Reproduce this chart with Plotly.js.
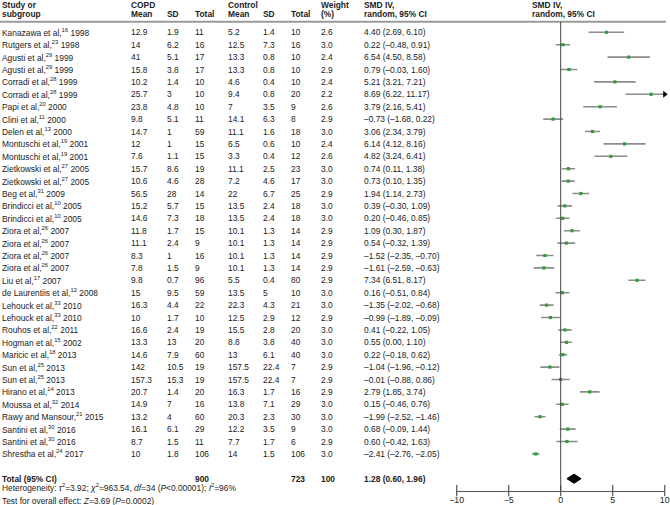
<!DOCTYPE html>
<html>
<head>
<meta charset="utf-8">
<script src="https://cdn.plot.ly/plotly-3.0.1.min.js"></script>
<style>html,body{margin:0;padding:0;background:#fff;}#chart{width:670px;height:505px;}</style>
</head>
<body>
<div id="chart"></div>
<script>
// ---- data ----
const studyNames = ["Kanazawa et al,","Rutgers et al,","Agusti et al,","Agusti et al,","Corradi et al,","Corradi et al,","Papi et al,","Clini et al,","Delen et al,","Montuschi et al,","Montuschi et al,","Zietkowski et al,","Zietkowski et al,","Beg et al,","Brindicci et al,","Brindicci et al,","Ziora et al,","Ziora et al,","Ziora et al,","Ziora et al,","Liu et al,","de Laurentiis et al,","Lehouck et al,","Lehouck et al,","Rouhos et al,","Hogman et al,","Maricic et al,","Sun et al,","Sun et al,","Hirano et al,","Moussa et al,","Rawy and Mansour,","Santini et al,","Santini et al,","Shrestha et al,"];
const refs = [16,23,29,29,28,28,20,11,13,19,19,27,27,31,10,10,26,26,26,26,17,12,33,33,22,15,18,25,25,14,32,21,30,30,24];
const years = [1998,1998,1999,1999,1999,1999,2000,2000,2000,2001,2001,2005,2005,2009,2005,2005,2007,2007,2007,2007,2007,2008,2010,2010,2011,2002,2013,2013,2013,2013,2014,2015,2016,2016,2017];
const copdMean = ["12.9","14","41","15.8","10.2","25.7","23.8","9.8","14.7","12","7.6","15.7","10.6","56.5","15.2","14.6","11.8","11.1","8.3","7.8","9.8","15","16.3","10","16.6","13.3","14.6","142","157.3","20.7","14.9","13.2","16.1","8.7","10"];
const copdSD = ["1.9","6.2","5.1","3.8","1.4","3","4.8","5.1","1","1","1.1","8.6","4.6","28","5.7","7.3","1.7","2.4","1","1.5","0.7","9.5","4.4","1.7","2.4","13","7.9","10.5","15.3","1.4","7","4","6.1","1.5","1.8"];
const copdN = [11,16,17,17,10,10,10,11,59,15,15,19,28,14,15,18,15,9,16,9,96,59,22,10,19,20,60,19,19,20,16,60,29,11,106];
const ctrlMean = ["5.2","12.5","13.3","13.3","4.6","9.4","7","14.1","11.1","6.5","3.3","11.1","7.2","22","13.5","13.5","10.1","10.1","10.1","10.1","5.5","13.5","22.3","12.5","15.5","8.8","13","157.5","157.5","16.3","13.8","20.3","12.2","7.7","14"];
const ctrlSD = ["1.4","7.3","0.8","0.8","0.4","0.8","3.5","6.3","1.6","0.6","0.4","2.5","4.6","6.7","2.4","2.4","1.3","1.3","1.3","1.3","0.4","5","4.3","2.9","2.8","3.8","6.1","22.4","22.4","1.7","7.1","2.3","3.5","1.7","1.5"];
const ctrlN = [10,16,10,10,10,20,9,8,18,10,12,23,17,25,18,18,14,14,14,14,80,10,21,12,20,40,40,7,7,16,29,30,9,6,106];
const weights = ["2.6","3.0","2.4","2.9","2.4","2.2","2.6","2.9","3.0","2.4","2.6","3.0","3.0","2.9","3.0","3.0","2.9","2.9","2.9","2.9","2.9","3.0","3.0","2.9","3.0","3.0","3.0","2.9","2.9","2.9","3.0","3.0","3.0","2.9","3.0"];
const smd = [4.40,0.22,6.54,0.79,5.21,8.69,3.79,-0.73,3.06,6.14,4.82,0.74,0.73,1.94,0.39,0.20,1.09,0.54,-1.52,-1.61,7.34,0.16,-1.35,-0.99,0.41,0.55,0.22,-1.04,-0.01,2.79,0.15,-1.99,0.68,0.60,-2.41];
const ciLo = [2.69,-0.48,4.50,-0.03,3.21,6.22,2.16,-1.68,2.34,4.12,3.24,0.11,0.10,1.14,-0.30,-0.46,0.30,-0.32,-2.35,-2.59,6.51,-0.51,-2.02,-1.89,-0.22,0.00,-0.18,-1.96,-0.88,1.85,-0.46,-2.52,-0.09,-0.42,-2.76];
const ciHi = [6.10,0.91,8.58,1.60,7.21,11.17,5.41,0.22,3.79,8.16,6.41,1.38,1.35,2.73,1.09,0.85,1.87,1.39,-0.70,-0.63,8.17,0.84,-0.68,-0.09,1.05,1.10,0.62,-0.12,0.86,3.74,0.76,-1.46,1.44,1.63,-2.05];
const totalCopdN = 900, totalCtrlN = 723, totalWeight = "100";
const totalSMD = 1.28, totalLo = 0.60, totalHi = 1.96;
const axisTicks = [-10,-5,0,5,10];
const axisMin = -10, axisMax = 10;

// ---- layout helpers ----
const W = 670, H = 505;
const rowTop = 32.3, rowStep = 12.4;
const pxToRow = p => (p - rowTop) / rowStep;
const fmt = v => (v < 0 ? "\u2013" : "") + Math.abs(v).toFixed(2);
const fontFam = "Liberation Sans, Arial, sans-serif";
const fs = 8.4;
const txtColor = "#222";
const colX = {study:1, cm:130, csd:166, cn:194, km:227, ksd:262, kn:290, w:320, smd:363};

const annotations = [];
function addText(txt, xpx, row, opts) {
  annotations.push(Object.assign({
    text: txt, xref: "paper", yref: "y", x: xpx / W, y: row,
    xanchor: "left", yanchor: "middle", showarrow: false, borderpad: 0,
    font: {family: fontFam, size: fs, color: txtColor}
  }, opts || {}));
}
// headers
const h1 = pxToRow(4.5), h2 = pxToRow(14);
addText("<b>Study or</b>", colX.study, h1);
addText("<b>subgroup</b>", colX.study, h2);
addText("<b>COPD</b>", colX.cm, h1);
addText("<b>Mean</b>", colX.cm, h2);
addText("<b>SD</b>", colX.csd, h2);
addText("<b>Total</b>", colX.cn, h2);
addText("<b>Control</b>", colX.km, h1);
addText("<b>Mean</b>", colX.km, h2);
addText("<b>SD</b>", colX.ksd, h2);
addText("<b>Total</b>", colX.kn, h2);
addText("<b>Weight</b>", colX.w, h1);
addText("<b>(%)</b>", colX.w, h2);
addText("<b>SMD IV,</b>", colX.smd, h1);
addText("<b>random, 95% CI</b>", colX.smd, h2);
addText("<b>SMD IV,</b>", 530.5, h1);
addText("<b>random, 95% CI</b>", 530.5, h2);

// rows
studyNames.forEach((n, i) => {
  addText(n + "<sup>" + refs[i] + "</sup> " + years[i], colX.study, i);
  addText(copdMean[i], colX.cm, i);
  addText(copdSD[i], colX.csd, i);
  addText(String(copdN[i]), colX.cn, i);
  addText(ctrlMean[i], colX.km, i);
  addText(ctrlSD[i], colX.ksd, i);
  addText(String(ctrlN[i]), colX.kn, i);
  addText(weights[i], colX.w, i);
  addText(fmt(smd[i]) + " (" + fmt(ciLo[i]) + ", " + fmt(ciHi[i]) + ")", colX.smd, i);
});
const totalRow = studyNames.length + 1;
addText("<b>Total (95% CI)</b>", colX.study, totalRow);
addText("<b>" + totalCopdN + "</b>", colX.cn, totalRow);
addText("<b>" + totalCtrlN + "</b>", colX.kn, totalRow);
addText("<b>" + totalWeight + "</b>", colX.w, totalRow);
addText("<b>" + fmt(totalSMD) + " (" + fmt(totalLo) + ", " + fmt(totalHi) + ")</b>", colX.smd, totalRow);
addText("Heterogeneity: <i>\u03c4</i><sup>2</sup>=3.92; <i>\u03c7</i><sup>2</sup>=963.54, <i>df</i>=34 (<i>P</i>&lt;0.00001); <i>I</i><sup>2</sup>=96%", colX.study, pxToRow(487.5));
addText("Test for overall effect: <i>Z</i>=3.69 (<i>P</i>=0.0002)", colX.study, pxToRow(500.5));

// ---- traces ----
const ciX = [], ciY = [];
const arrowX = [], arrowY = [];
smd.forEach((v, i) => {
  const lo = Math.max(ciLo[i], axisMin), hi = Math.min(ciHi[i], axisMax);
  ciX.push(lo, hi, null); ciY.push(i, i, null);
  if (ciHi[i] > axisMax) { arrowX.push(axisMax); arrowY.push(i); }
  if (ciLo[i] < axisMin) { arrowX.push(axisMin); arrowY.push(i); }
});
const axisRow = pxToRow(490.7);
const dh = 0.37;
const traces = [
  {x: ciX, y: ciY, mode: "lines", line: {color: "#8c8c8c", width: 1.6}, hoverinfo: "skip", cliponaxis: false},
  {x: smd, y: smd.map((_, i) => i), mode: "markers", marker: {symbol: "square", size: 3.2, color: "#2e9e3a"}, cliponaxis: false},
  {x: arrowX, y: arrowY, mode: "markers", marker: {symbol: "triangle-right", size: 6, color: "#000"}, cliponaxis: false},
  {x: [totalLo, totalSMD, totalHi, totalSMD, totalLo], y: [totalRow, totalRow - dh, totalRow, totalRow + dh, totalRow],
   mode: "lines", fill: "toself", fillcolor: "#000", line: {color: "#000", width: 1}, cliponaxis: false},
  {x: axisTicks, y: axisTicks.map(() => axisRow), mode: "markers",
   marker: {symbol: "line-ns-open", size: 8, color: "#555", line: {color: "#555", width: 1.2}}, cliponaxis: false}
];

const layout = {
  width: W, height: H,
  margin: {l: 0, r: 0, t: 0, b: 0},
  paper_bgcolor: "#fff", plot_bgcolor: "rgba(0,0,0,0)",
  showlegend: false,
  font: {family: fontFam, size: fs, color: txtColor},
  xaxis: {
    domain: [456.7 / W, 664.7 / W], range: [axisMin, axisMax],
    anchor: "free", position: 1 - 490.7 / H,
    color: "#222",
    showline: true, linecolor: "#555", linewidth: 1.2,
    showgrid: false, zeroline: false,
    tickmode: "array", tickvals: axisTicks, ticktext: axisTicks.map(v => v < 0 ? "\u2212" + Math.abs(v) : String(v)),
    ticks: "outside", ticklen: 1, tickcolor: "rgba(0,0,0,0)",
    tickfont: {family: fontFam, size: 8.8, color: "#222"}
  },
  yaxis: {
    domain: [0, 1], range: [pxToRow(H), pxToRow(0)],
    visible: false, showgrid: false, zeroline: false
  },
  shapes: [
    {type: "line", xref: "paper", yref: "y", x0: 0, x1: 666 / W, y0: pxToRow(21.7), y1: pxToRow(21.7), line: {color: "#9a9a9a", width: 2}},
    {type: "line", xref: "x", yref: "y", x0: 0, x1: 0, y0: pxToRow(21.7), y1: axisRow, line: {color: "#444", width: 1}}
  ],
  annotations: annotations
};
Plotly.newPlot("chart", traces, layout, {staticPlot: true, displayModeBar: false});
</script>
</body>
</html>
